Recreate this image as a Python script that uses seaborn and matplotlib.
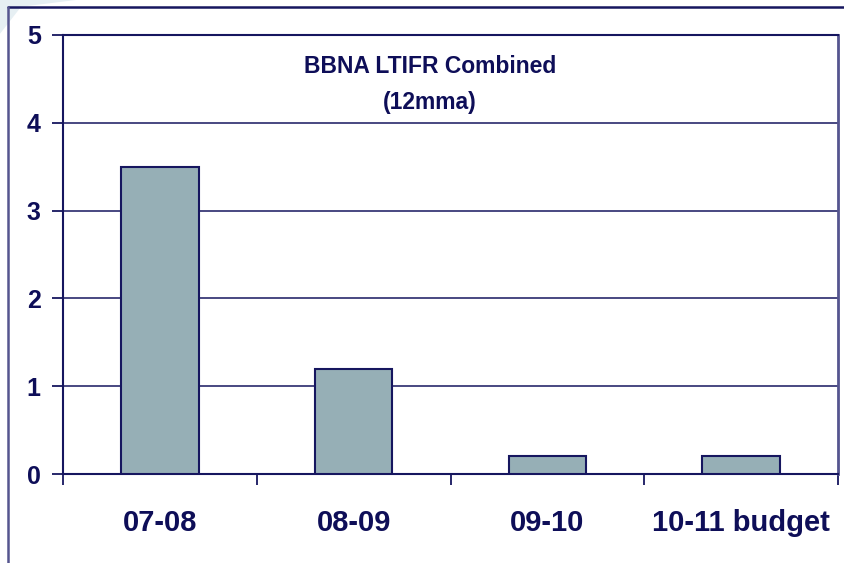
import matplotlib
matplotlib.use("Agg")
import matplotlib.pyplot as plt
from matplotlib import font_manager
from matplotlib.patches import Polygon
from matplotlib.lines import Line2D
import seaborn as sns
import pandas as pd

# data
periods = ["07-08", "08-09", "09-10", "10-11 budget"]
ltifr = [3.5, 1.2, 0.2, 0.2]
y_ticks = [0, 1, 2, 3, 4, 5]
title_lines = ["BBNA LTIFR Combined", "(12mma)"]

navy = "#0e0e58"
line_col = "#16165f"
bar_fill = "#96afb6"

sns.set_theme(style="white")
installed = {f.name for f in font_manager.fontManager.ttflist}
narrow = "Liberation Sans Narrow" if "Liberation Sans Narrow" in installed else "Liberation Sans"
plt.rcParams["font.family"] = ["Liberation Sans", "DejaVu Sans"]

df = pd.DataFrame({"period": periods, "ltifr": ltifr})

fig = plt.figure(figsize=(8.44, 5.63), dpi=100)
ax = fig.add_axes([63 / 844, 1 - 474 / 563, 775 / 844, 439 / 563])

sns.barplot(data=df, x="period", y="ltifr", color=bar_fill, saturation=1,
            width=0.4, edgecolor=line_col, linewidth=1.5, ax=ax, zorder=3)

ax.set_xlim(-0.5, len(periods) - 0.5)
ax.set_ylim(0, 5)
ax.set_yticks(y_ticks)
ax.set_yticklabels([str(t) for t in y_ticks], fontsize=18, fontweight="bold", color=navy)
ax.grid(axis="y", color=line_col, linewidth=1.1, zorder=0)
ax.set_axisbelow(True)

ax.set_xticks(range(len(periods)))
ax.set_xticklabels(periods, fontsize=21, fontweight="bold", color=navy, family=[narrow, "DejaVu Sans"])
ax.set_xticks([i - 0.5 for i in range(len(periods) + 1)], minor=True)
ax.tick_params(axis="x", which="major", length=0, pad=25)
ax.tick_params(axis="x", which="minor", length=8, width=1.3, color=line_col, direction="out", bottom=True)
ax.tick_params(axis="y", length=8, width=1.3, color=line_col, direction="out", left=True, pad=8)
ax.set_xlabel("")
ax.set_ylabel("")

for side in ["left", "bottom", "top"]:
    ax.spines[side].set_color(line_col)
    ax.spines[side].set_linewidth(1.5)
ax.spines["right"].set_color("#55558f")
ax.spines["right"].set_linewidth(2)

ax.text(0.4735, 0.928, title_lines[0], transform=ax.transAxes, ha="center", va="center",
        fontsize=16.5, fontweight="bold", color=navy)
ax.text(0.4735, 0.847, title_lines[1], transform=ax.transAxes, ha="center", va="center",
        fontsize=16.5, fontweight="bold", color=navy)

# slide frame and corner decoration
fig.patches.append(Polygon([[0, 1], [0.09, 1], [0.025, 0.988], [0, 0.94]], closed=True,
                           transform=fig.transFigure, facecolor="#e6eff3", edgecolor="none", zorder=0))
fig.lines.append(Line2D([8 / 844, 1], [1 - 7 / 563] * 2, transform=fig.transFigure, color=line_col, linewidth=1.8))
fig.lines.append(Line2D([8 / 844] * 2, [0, 1 - 7 / 563], transform=fig.transFigure, color="#55558f", linewidth=1.8))

fig.savefig("out.png", dpi=100, facecolor="white")
